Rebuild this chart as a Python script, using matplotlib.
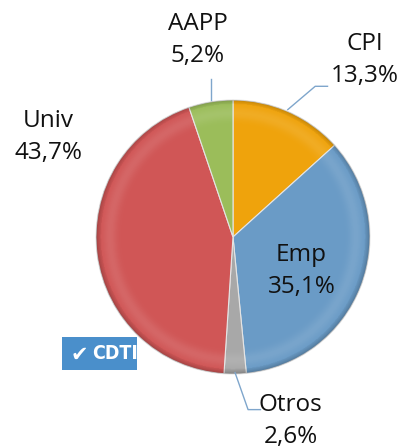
import numpy as np
import matplotlib.pyplot as plt
from matplotlib.patches import Circle, Rectangle

# Datos del grafico
labels = ['CPI', 'Emp', 'Otros', 'Univ', 'AAPP']
values = [13.3, 35.1, 2.6, 43.7, 5.2]
colors = ['#EFA30C', '#6A9BC6', '#A8A8A8', '#D05656', '#9BBD5A']
pct_text = ['13,3%', '35,1%', '2,6%', '43,7%', '5,2%']

# posiciones de las etiquetas (unidades del radio)
label_pos = [(0.96, 1.29), (0.50, -0.25), (0.42, -1.34), (-1.35, 0.73), (-0.26, 1.44)]

plt.rcParams['font.family'] = ['Open Sans', 'DejaVu Sans']

fig = plt.figure(figsize=(4.05, 4.48), dpi=100)
ax = fig.add_axes([0, 0, 1, 1])

wedges, _ = ax.pie(values, colors=colors, startangle=90, counterclock=False,
                   radius=1, center=(0, 0),
                   wedgeprops=dict(edgecolor='#E4E4E4', linewidth=0.8))

# sombreado tipo bisel: borde oscuro y banda clara
n = 400
xx, yy = np.meshgrid(np.linspace(-1, 1, n), np.linspace(-1, 1, n))
rr = np.sqrt(xx**2 + yy**2)
dark = np.clip((rr - 0.95) / 0.05, 0, 1)
light = np.exp(-((rr - 0.90) / 0.05)**2) * 0.10
shade = np.zeros((n, n, 4))
is_dark = dark > 0.3
shade[..., 0:3] = np.where(is_dark[..., None], 0.0, 1.0)
shade[..., 3] = np.where(is_dark, 0.22 * dark**1.5, light)
im = ax.imshow(shade, extent=(-1, 1, -1, 1), origin='lower', zorder=3)
im.set_clip_path(Circle((0, 0), 1, transform=ax.transData))

# etiquetas
for lab, pct, (x, y) in zip(labels, pct_text, label_pos):
    ax.text(x, y, lab + '\n' + pct, ha='center', va='center', fontsize=17.5,
            linespacing=1.45, color='#111111', zorder=5)

# lineas guia
line_c = '#7FA6CC'
ax.plot([0.40, 0.60, 0.69], [0.93, 1.10, 1.10], color=line_c, lw=1, zorder=4)
ax.plot([-0.16, -0.16], [1.0, 1.15], color=line_c, lw=1, zorder=4)
ax.plot([0.015, 0.11, 0.20], [-0.99, -1.26, -1.26], color=line_c, lw=1, zorder=4)

# logo CDTI
ax.add_patch(Rectangle((-1.248, -0.971), 0.547, 0.241, facecolor='#4A8FCB',
                       edgecolor='none', zorder=5))
ax.text(-1.125, -0.86, '\u2714', color='white', fontsize=15,
        ha='center', va='center', family=['DejaVu Sans'], zorder=6)
ax.text(-0.86, -0.85, 'CDTI', color='white', fontsize=14, fontweight='bold',
        fontstretch='condensed', ha='center', va='center',
        family=['DejaVu Sans'], zorder=6)

ax.set_xlim(-233 / 137, (405 - 233) / 137)
ax.set_ylim(-211 / 137, (448 - 211) / 137)
ax.set_aspect('auto')
ax.axis('off')

fig.savefig('out.png', dpi=100)
